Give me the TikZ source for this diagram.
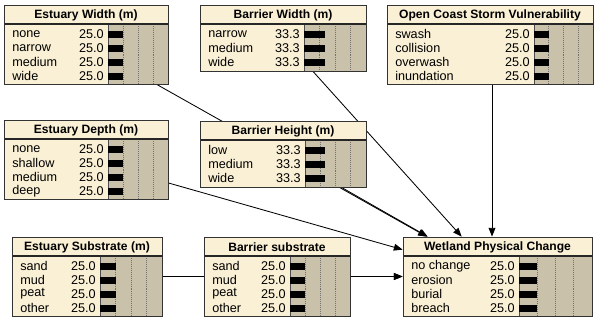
\documentclass[tikz,border=0pt]{standalone}
\usepackage{fontspec}
\setmainfont{Liberation Sans}
\usepackage{xcolor}
\usetikzlibrary{arrows.meta, fit, backgrounds}

\definecolor{cream}{RGB}{250,240,213}
\definecolor{bargray}{RGB}{201,193,170}

% one belief box: name, left, top, right, bottom, bar start, title, states
\newcommand{\beliefnode}[8]{%
  \node[frame, fit={(#2,#3) (#4,#5)}] (#1) {};
  \fill[bargray] (#6,{#3+19}) rectangle (#4,#5);
  \foreach \k in {1,2,3}
    \draw[gridln] ({#6+\k*(#4-#6)/4},{#3+19}) -- ({#6+\k*(#4-#6)/4},#5);
  \draw[black!70, line width=0.4pt] (#6,{#3+19}) -- (#6,#5);
  \draw[sepln] (#2,{#3+19}) -- (#4,{#3+19});
  \node[ttl] at ({(#2+#4)/2},{#3+10}) {#7};
  \foreach \lbl/\pct [count=\i from 0] in {#8} {
    \node[st] at ({#2+8},{#3+29+14*\i}) {\lbl};
    \node[val] at ({#6-4},{#3+29+14*\i}) {\pct};
    \fill ({#6},{#3+25.5+14*\i}) rectangle ({#6+\pct*(#4-#6)/100},{#3+32.5+14*\i});
  }
  \draw[frameln] (#2,#3) rectangle (#4,#5);
}

\begin{document}
\begin{tikzpicture}[
  x=0.025cm, y=-0.025cm,
  frame/.style={fill=cream, draw=black!80, inner sep=0pt, line width=0.5pt},
  frameln/.style={draw=black!80, line width=0.6pt},
  sepln/.style={draw=black!85, line width=1pt},
  gridln/.style={draw=black!55, densely dotted, line width=0.4pt},
  ttl/.style={inner sep=0pt, font=\fontsize{8.6}{10}\selectfont\bfseries},
  st/.style={inner sep=0pt, anchor=west, font=\fontsize{9}{10}\selectfont},
  val/.style={inner sep=0pt, anchor=east, font=\fontsize{9}{10}\selectfont},
  arr/.style={-{Triangle[length=2.2mm, width=1.7mm]}, line width=0.6pt, draw=black},
]
  \useasboundingbox (0,0) rectangle (600,322);

  \beliefnode{ew}{4}{5}{168}{84}{108}{Estuary Width (m)}{none/25.0, narrow/25.0, medium/25.0, wide/25.0}
  \beliefnode{bw}{200}{5}{366}{71}{304}{Barrier Width (m)}{narrow/33.3, medium/33.3, wide/33.3}
  \beliefnode{oc}{387}{5}{593}{84}{534}{Open Coast Storm Vulnerability}{swash/25.0, collision/25.0, overwash/25.0, inundation/25.0}
  \beliefnode{ed}{4}{120}{168}{199}{108}{Estuary Depth (m)}{none/25.0, shallow/25.0, medium/25.0, deep/25.0}
  \beliefnode{bh}{200}{121}{366}{187}{305}{Barrier Height (m)}{low/33.3, medium/33.3, wide/33.3}
  \beliefnode{es}{12}{237}{162}{316}{100}{Estuary Substrate (m)}{sand/25.0, mud/25.0, peat/25.0, other/25.0}
  \beliefnode{bs}{204}{237}{350}{316}{290}{Barrier substrate}{sand/25.0, mud/25.0, peat/25.0, other/25.0}
  \beliefnode{wpc}{403}{237}{592}{316}{519}{Wetland Physical Change}{no change/25.0, erosion/25.0, burial/25.0, breach/25.0}

  \begin{pgfonlayer}{background}
    \draw[arr] (ew) -- (wpc);
    \draw[arr] (bw) -- (wpc);
    \draw[arr] ([xshift=0.05cm]oc.south) -- ([xshift=0.05cm]oc.south |- wpc.north);
    \draw[arr] (ed) -- (wpc);
    \draw[arr] (bh) -- (wpc);
    \draw[arr] (es) -- (wpc);
    \draw[arr] (bs) -- (wpc);
  \end{pgfonlayer}
\end{tikzpicture}
\end{document}
